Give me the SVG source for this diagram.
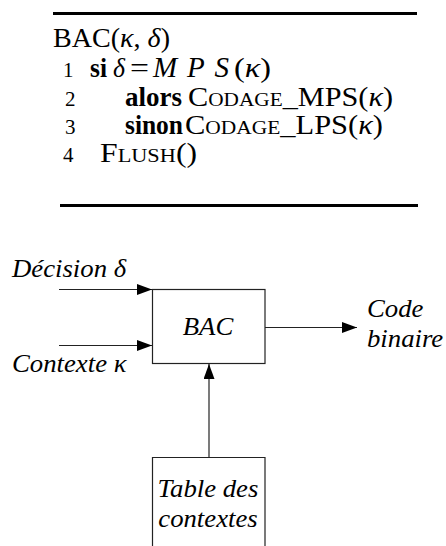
<svg xmlns="http://www.w3.org/2000/svg" width="446" height="546" viewBox="0 0 446 546">
<style>
.t{font-family:"Liberation Serif","Times New Roman",serif;font-size:27px;fill:#000}
.n{font-size:21px}
.b{font-weight:bold}
.i{font-style:italic}
.sc{font-size:19px}
.d{font-family:"Liberation Serif","Times New Roman",serif;font-size:25px;font-style:italic;fill:#000}
.rule{stroke:#000;stroke-width:3}
.ln{stroke:#222;stroke-width:1.2;fill:none}
.box{stroke:#222;stroke-width:1.2;fill:#fff}
</style>
<defs>
<marker id="ah" markerWidth="15" markerHeight="11" refX="15" refY="5.5" orient="auto" markerUnits="userSpaceOnUse">
<path d="M0,0 L15,5.5 L0,11 Z" fill="#000"/>
</marker>
</defs>
<g id="algorithm">
<line class="rule" x1="53" y1="13.5" x2="417" y2="13.5"/>
<line class="rule" x1="60" y1="205.5" x2="418" y2="205.5"/>
<text class="t" x="53" y="47" textLength="117" lengthAdjust="spacingAndGlyphs">BAC(<tspan class="i">κ</tspan>, <tspan class="i">δ</tspan>)</text>
<text class="t n" x="63" y="77">1</text>
<text class="t b" x="90" y="77" textLength="17" lengthAdjust="spacingAndGlyphs">si</text>
<text class="t i" x="113" y="77" textLength="12" lengthAdjust="spacingAndGlyphs">δ</text>
<text class="t" x="130" y="77" textLength="19" lengthAdjust="spacingAndGlyphs">=</text>
<text class="t i" x="153" y="77" style="font-size:29px" textLength="76" lengthAdjust="spacing">MPS</text>
<text class="t" x="234" y="77" textLength="37" lengthAdjust="spacingAndGlyphs">(<tspan class="i">κ</tspan>)</text>
<text class="t n" x="65" y="106">2</text>
<text class="t b" x="125" y="106" textLength="57" lengthAdjust="spacingAndGlyphs">alors</text>
<text class="t" x="188" y="106" textLength="205" lengthAdjust="spacingAndGlyphs">C<tspan class="sc">ODAGE</tspan>_MPS(<tspan class="i">κ</tspan>)</text>
<text class="t n" x="65" y="134">3</text>
<text class="t b" x="125" y="134" textLength="58" lengthAdjust="spacingAndGlyphs">sinon</text>
<text class="t" x="185" y="134" textLength="198" lengthAdjust="spacingAndGlyphs">C<tspan class="sc">ODAGE</tspan>_LPS(<tspan class="i">κ</tspan>)</text>
<text class="t n" x="63" y="162">4</text>
<text class="t" x="100" y="162" textLength="97" lengthAdjust="spacingAndGlyphs">F<tspan class="sc">LUSH</tspan>()</text>
</g>
<g id="connectors">
<line class="ln" x1="59" y1="289.5" x2="152" y2="289.5" marker-end="url(#ah)"/>
<line class="ln" x1="59" y1="345.5" x2="152" y2="345.5" marker-end="url(#ah)"/>
<line class="ln" x1="265" y1="327.5" x2="357" y2="327.5" marker-end="url(#ah)"/>
<line class="ln" x1="209" y1="457" x2="209" y2="364" marker-end="url(#ah)"/>
</g>
<g id="bac">
<rect class="box" x="152.5" y="289.5" width="112.5" height="74"/>
<text class="d" transform="scale(1.07,1)" x="194.4" y="335" text-anchor="middle">BAC</text>
</g>
<g id="table">
<path class="ln" d="M152.5,548 V457.5 H265 V548"/>
<text class="d" transform="scale(1.07,1)" x="194.4" y="497" text-anchor="middle">Table des</text>
<text class="d" transform="scale(1.07,1)" x="194.4" y="527" text-anchor="middle">contextes</text>
</g>
<g id="labels" transform="scale(1.07,1)">
<text class="d" x="11.2" y="277">Décision δ</text>
<text class="d" x="11.2" y="372">Contexte κ</text>
<text class="d" x="343" y="317">Code</text>
<text class="d" x="343" y="347">binaire</text>
</g>
</svg>
